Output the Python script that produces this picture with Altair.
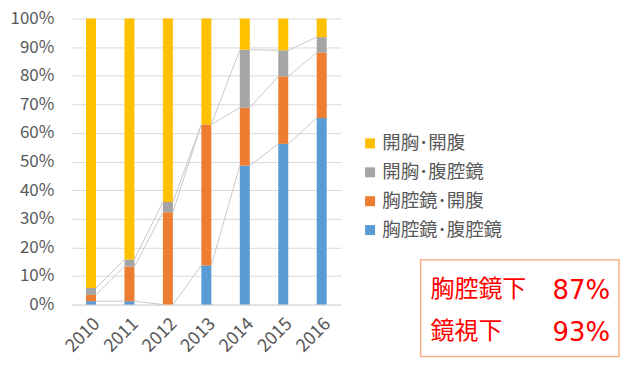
import altair as alt
import pandas as pd

years = ["2010", "2011", "2012", "2013", "2014", "2015", "2016"]
series_names = ["胸腔鏡･腹腔鏡", "胸腔鏡･開腹", "開胸･腹腔鏡", "開胸･開腹"]
legend_order = ["開胸･開腹", "開胸･腹腔鏡", "胸腔鏡･開腹", "胸腔鏡･腹腔鏡"]
colors = {"開胸･開腹": "#FFC000", "開胸･腹腔鏡": "#A5A5A5",
          "胸腔鏡･開腹": "#ED7D31", "胸腔鏡･腹腔鏡": "#5B9BD5"}

thor_lap = [1.2, 1.2, 0.0, 13.7, 48.6, 56.2, 65.2]
thor_open = [2.2, 12.1, 32.3, 49.3, 20.2, 23.6, 22.9]
open_lap = [2.4, 2.5, 3.6, 0.0, 20.3, 9.1, 5.4]
open_open = [round(100 - a - b - c, 1) for a, b, c in zip(thor_lap, thor_open, open_lap)]

y_ticks = [0, 10, 20, 30, 40, 50, 60, 70, 80, 90, 100]

box_labels = ["胸腔鏡下", "鏡視下"]
box_values = ["87%", "93%"]

vals = [thor_lap, thor_open, open_lap, open_open]

rows = []
cums = []
for i, y in enumerate(years):
    lo = 0.0
    c = []
    for name, v in zip(series_names, vals):
        rows.append({"year": y, "series": name, "lo": lo / 100, "hi": (lo + v[i]) / 100})
        lo += v[i]
        c.append(lo / 100)
    cums.append(c)
bars = pd.DataFrame(rows)

lrows = []
for i in range(len(years) - 1):
    for s in range(3):
        lrows.append({"year": years[i], "next": years[i + 1],
                      "v1": cums[i][s], "v2": cums[i + 1][s]})
lines = pd.DataFrame(lrows)

font = "Noto Sans CJK JP"
xscale = alt.Scale(domain=years, paddingInner=0.74, paddingOuter=0.37)
yscale = alt.Scale(domain=[0, 1], nice=False, zero=True)
x_axis = alt.Axis(title=None, labelAngle=-45, labelFontSize=18,
                  labelColor="#595959", labelFont=font, ticks=False,
                  domainColor="#D9D9D9", labelPadding=10)
y_axis = alt.Axis(title=None, values=[t / 100 for t in y_ticks], format=".0%",
                  labelFontSize=17, labelColor="#595959", labelFont=font,
                  ticks=False, labelOverlap=False, labelBound=False,
                  domain=False, gridColor="#D9D9D9", labelPadding=18)

bar_layer = alt.Chart(bars).mark_bar().encode(
    x=alt.X("year:N", scale=xscale, sort=years, axis=x_axis),
    y=alt.Y("lo:Q", scale=yscale, axis=y_axis),
    y2="hi:Q",
    color=alt.Color("series:N",
                    scale=alt.Scale(domain=legend_order,
                                    range=[colors[k] for k in legend_order]),
                    legend=alt.Legend(title=None, orient="none", legendX=290,
                                      legendY=116, symbolType="square",
                                      symbolSize=100, symbolStrokeWidth=0,
                                      labelFontSize=18.5, labelFont=font,
                                      labelColor="#595959", rowPadding=10,
                                      labelOffset=3, padding=0)),
)

line_layer = alt.Chart(lines).mark_rule(color="#C8C8C8", strokeWidth=1).encode(
    x=alt.X("year:N", scale=xscale, sort=years, bandPosition=1, axis=x_axis),
    x2=alt.X2("next:N", bandPosition=0),
    y=alt.Y("v1:Q", scale=yscale, axis=y_axis),
    y2="v2:Q",
)

box = alt.Chart(pd.DataFrame({"a": [0]})).mark_rect(
    fill="white", stroke="#F4B183", strokeWidth=1.5).encode(
    x=alt.value(350), x2=alt.value(549), y=alt.value(242), y2=alt.value(339))

texts = []
for i, (lab, val) in enumerate(zip(box_labels, box_values)):
    yy = 272 + i * 43
    texts.append(alt.Chart(pd.DataFrame({"t": [lab]})).mark_text(
        align="left", baseline="middle", fontSize=24, color="#FF0000", font=font
    ).encode(x=alt.value(360), y=alt.value(yy), text="t:N"))
    texts.append(alt.Chart(pd.DataFrame({"t": [val]})).mark_text(
        align="right", baseline="middle", fontSize=26, color="#FF0000",
        font="DejaVu Sans"
    ).encode(x=alt.value(540), y=alt.value(yy + 1), text="t:N"))

chart = alt.layer(bar_layer, line_layer, box, *texts).properties(
    width=270, height=287,
    autosize=alt.AutoSizeParams(type="none"),
    padding={"left": 64, "top": 10, "right": 280, "bottom": 56},
).configure_view(stroke=None)

chart.save("out.html", embed_options={"renderer": "svg", "actions": False})
